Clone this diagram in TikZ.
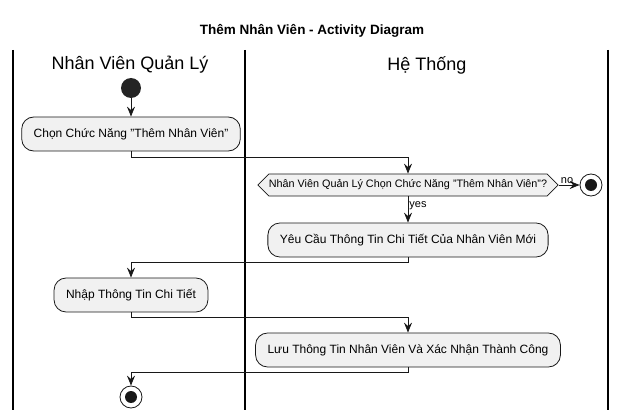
\documentclass[tikz,border=0pt]{standalone}
\usepackage{fontspec}
\setmainfont{Liberation Sans}
\usetikzlibrary{arrows.meta,shapes.symbols}

\definecolor{actfill}{HTML}{F1F1F1}
\definecolor{lineclr}{HTML}{181818}

\tikzset{
    action/.style={draw=lineclr, fill=actfill, rounded corners=12pt, line width=0.8pt,
        minimum height=34pt, inner xsep=12pt, font=\fontsize{12}{14}\selectfont},
    decision/.style={draw=lineclr, fill=actfill, signal, signal to=east and west,
        signal pointer angle=90, line width=0.8pt, minimum height=22pt, inner xsep=0pt,
        font=\fontsize{10.8}{13}\selectfont},
    startnode/.style={circle, fill=lineclr!95, minimum size=20pt, inner sep=0pt},
    stopnode/.style={circle, draw=lineclr, fill=white, line width=0.8pt, minimum size=22pt,
        inner sep=0pt, path picture={\fill[lineclr] (path picture bounding box.center) circle (6pt);}},
    lane/.style={font=\fontsize{18}{20}\selectfont},
    flow/.style={-{Stealth[length=10pt,width=8pt,inset=3.5pt]}, line width=0.8pt, draw=lineclr},
    lbl/.style={font=\fontsize{11}{13}\selectfont, inner sep=1pt}
}

\begin{document}
\begin{tikzpicture}[x=1pt, y=-1pt]
        \useasboundingbox (0,0) rectangle (625,420);

        % Tiêu đề
        \node[font=\fontsize{13.5}{15}\selectfont\bfseries] (title) at (312,31) {Thêm Nhân Viên - Activity Diagram};

        % Các làn
        \node[lane] (lane1) at (130,65) {Nhân Viên Quản Lý};
        \node[lane] (lane2) at (427,65) {Hệ Thống};
        \draw[line width=1.4pt] (13,50) -- (13,410);
        \draw[line width=1.4pt] (245,50) -- (245,410);
        \draw[line width=1.4pt] (608,50) -- (608,410);

        % Các bước
        \node[startnode] (start) at (131,88) {};
        \node[action] (chon) at (131,134) {Chọn Chức Năng "Thêm Nhân Viên"};
        \node[decision] (check) at (408,185) {Nhân Viên Quản Lý Chọn Chức Năng "Thêm Nhân Viên"?};
        \node[stopnode] (stop1) at (591,185) {};
        \node[action] (yeucau) at (408,240) {Yêu Cầu Thông Tin Chi Tiết Của Nhân Viên Mới};
        \node[action] (nhap) at (131,295) {Nhập Thông Tin Chi Tiết};
        \node[action] (luu) at (408,350) {Lưu Thông Tin Nhân Viên Và Xác Nhận Thành Công};
        \node[stopnode] (stop2) at (131,397) {};

        % Dây nối
        \draw[flow] (start) -- (chon);
        \draw[flow] (chon.south) -- ++(0,6) -| (check.north);
        \draw[flow] (check.east) -- node[lbl, pos=0.4, above] {no} (stop1);
        \draw[flow] (check.south) -- node[lbl, pos=0.35, right] {yes} (yeucau.north);
        \draw[flow] (yeucau.south) -- ++(0,5) -| (nhap.north);
        \draw[flow] (nhap.south) -- ++(0,5) -| (luu.north);
        \draw[flow] (luu.south) -- ++(0,5) -| (stop2.north);

\end{tikzpicture}
\end{document}
